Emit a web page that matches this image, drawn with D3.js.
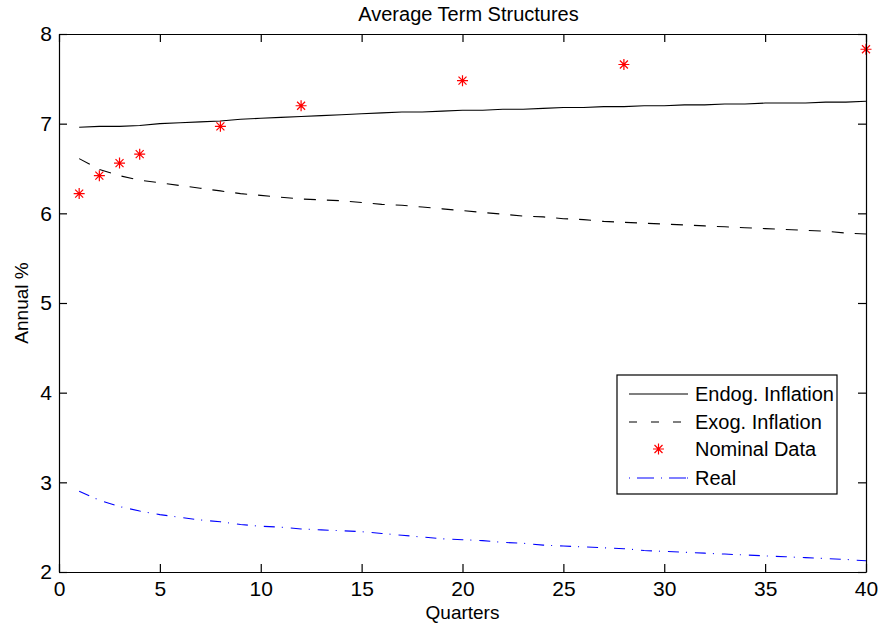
<!DOCTYPE html>
<html>
<head>
<meta charset="utf-8">
<script src="https://cdn.jsdelivr.net/npm/d3@7"></script>
<style>
  body { margin: 0; background: #fff; }
  svg { font-family: "Liberation Sans", Arial, Helvetica, sans-serif; }
  .axis path, .axis line { stroke: #000; stroke-width: 1.2; }
  .axis text { font-size: 21px; fill: #000; }
</style>
</head>
<body>
<svg id="chart" width="881" height="626"></svg>
<script>
// quarters 1..40 for the model lines
var quarters = d3.range(1, 41)

var endog = [6.96, 6.97, 6.97, 6.98, 7.00, 7.01, 7.02, 7.03, 7.05, 7.06,
             7.07, 7.08, 7.09, 7.10, 7.11, 7.12, 7.13, 7.13, 7.14, 7.15,
             7.15, 7.16, 7.16, 7.17, 7.18, 7.18, 7.19, 7.19, 7.20, 7.20,
             7.21, 7.21, 7.22, 7.22, 7.23, 7.23, 7.23, 7.24, 7.24, 7.25]

var exog = [6.61, 6.49, 6.42, 6.37, 6.34, 6.31, 6.28, 6.25, 6.22, 6.20,
            6.18, 6.16, 6.15, 6.14, 6.12, 6.10, 6.09, 6.07, 6.05, 6.03,
            6.01, 5.99, 5.97, 5.96, 5.94, 5.93, 5.91, 5.90, 5.89, 5.88,
            5.87, 5.86, 5.85, 5.84, 5.83, 5.82, 5.81, 5.80, 5.78, 5.77]

var real = [2.90, 2.80, 2.73, 2.68, 2.64, 2.61, 2.58, 2.56, 2.53, 2.51,
            2.50, 2.48, 2.47, 2.46, 2.45, 2.43, 2.41, 2.39, 2.37, 2.36,
            2.35, 2.33, 2.32, 2.30, 2.29, 2.28, 2.27, 2.26, 2.24, 2.23,
            2.22, 2.21, 2.20, 2.19, 2.18, 2.17, 2.16, 2.15, 2.14, 2.125]

// observed nominal yields
var nomQuarters = [1, 2, 3, 4, 8, 12, 20, 28, 40]
var nomValues = [6.22, 6.42, 6.56, 6.66, 6.97, 7.20, 7.48, 7.66, 7.83]

var xTicks = [0, 5, 10, 15, 20, 25, 30, 35, 40]
var yTicks = [2, 3, 4, 5, 6, 7, 8]

var legendNames = ["Endog. Inflation", "Exog. Inflation", "Nominal Data", "Real"]

var svg = d3.select("#chart")
var plotL = 59, plotR = 866, plotT = 34, plotB = 572

var xScale = d3.scaleLinear().domain([0, 40]).range([plotL, plotR])
var yScale = d3.scaleLinear().domain([2, 8]).range([plotB, plotT])

var line = d3.line()
  .x(function (d) { return xScale(d[0]) })
  .y(function (d) { return yScale(d[1]) })

function pairs(vals) {
  return quarters.map(function (q, i) { return [q, vals[i]] })
}

var plot = svg.append("g")

plot.append("path")
  .datum(pairs(endog))
  .attr("d", line)
  .attr("fill", "none")
  .attr("stroke", "#000")
  .attr("stroke-width", 1.1)

plot.append("path")
  .datum(pairs(exog))
  .attr("d", line)
  .attr("fill", "none")
  .attr("stroke", "#000")
  .attr("stroke-width", 1.1)
  .attr("stroke-dasharray", "12,11")

plot.append("path")
  .datum(pairs(real))
  .attr("d", line)
  .attr("fill", "none")
  .attr("stroke", "#0000ff")
  .attr("stroke-width", 1.1)
  .attr("stroke-dasharray", "11,7,1,8")

// asterisk markers
function star(g, cx, cy) {
  var r = 5.5, d = 4
  g.append("path")
    .attr("d", "M" + (cx - r) + "," + cy + "H" + (cx + r) +
               "M" + cx + "," + (cy - r) + "V" + (cy + r) +
               "M" + (cx - d) + "," + (cy - d) + "L" + (cx + d) + "," + (cy + d) +
               "M" + (cx - d) + "," + (cy + d) + "L" + (cx + d) + "," + (cy - d))
    .attr("stroke", "#ff0000")
    .attr("stroke-width", 1.2)
    .attr("fill", "none")
}

nomQuarters.forEach(function (q, i) {
  star(plot, xScale(q), yScale(nomValues[i]))
})

// axes with inward ticks (box style)
svg.append("g")
  .attr("class", "axis")
  .attr("transform", "translate(0," + plotB + ")")
  .call(d3.axisBottom(xScale).tickValues(xTicks).tickSizeInner(-8).tickSizeOuter(0).tickPadding(9))

svg.append("g")
  .attr("class", "axis")
  .attr("transform", "translate(" + plotL + ",0)")
  .call(d3.axisLeft(yScale).tickValues(yTicks).tickFormat(d3.format("d")).tickSizeInner(-8).tickSizeOuter(0).tickPadding(7))

svg.append("g")
  .attr("class", "axis")
  .attr("transform", "translate(0," + plotT + ")")
  .call(d3.axisTop(xScale).tickValues(xTicks).tickSizeInner(-8).tickSizeOuter(0).tickFormat(""))

svg.append("g")
  .attr("class", "axis")
  .attr("transform", "translate(" + plotR + ",0)")
  .call(d3.axisRight(yScale).tickValues(yTicks).tickSizeInner(-8).tickSizeOuter(0).tickFormat(""))

// titles
svg.append("text")
  .attr("x", (plotL + plotR) / 2 + 6)
  .attr("y", 21)
  .attr("text-anchor", "middle")
  .attr("font-size", 20)
  .text("Average Term Structures")

svg.append("text")
  .attr("x", (plotL + plotR) / 2)
  .attr("y", 619)
  .attr("text-anchor", "middle")
  .attr("font-size", 19)
  .text("Quarters")

svg.append("text")
  .attr("transform", "translate(28," + ((plotT + plotB) / 2) + ") rotate(-90)")
  .attr("text-anchor", "middle")
  .attr("font-size", 19)
  .text("Annual %")

// legend
var lg = svg.append("g")
lg.append("rect")
  .attr("x", 617).attr("y", 375)
  .attr("width", 220).attr("height", 119)
  .attr("fill", "#fff")
  .attr("stroke", "#000")
  .attr("stroke-width", 1.2)

var rowY = [394, 422, 449, 478]
var lx1 = 629, lx2 = 688

lg.append("line").attr("x1", lx1).attr("x2", lx2).attr("y1", rowY[0]).attr("y2", rowY[0])
  .attr("stroke", "#000").attr("stroke-width", 1.1)
lg.append("line").attr("x1", lx1).attr("x2", lx2).attr("y1", rowY[1]).attr("y2", rowY[1])
  .attr("stroke", "#000").attr("stroke-width", 1.1).attr("stroke-dasharray", "8,14")
star(lg, (lx1 + lx2) / 2, rowY[2])
lg.append("line").attr("x1", lx1).attr("x2", lx2).attr("y1", rowY[3]).attr("y2", rowY[3])
  .attr("stroke", "#0000ff").attr("stroke-width", 1.1).attr("stroke-dasharray", "1,7,17,7,1,7,17")

legendNames.forEach(function (name, i) {
  lg.append("text")
    .attr("x", 695)
    .attr("y", rowY[i])
    .attr("dy", "0.35em")
    .attr("font-size", 20)
    .text(name)
})
</script>
</body>
</html>
